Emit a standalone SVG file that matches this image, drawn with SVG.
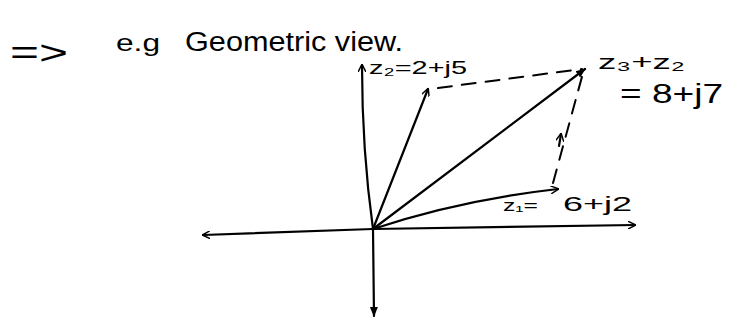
<svg xmlns="http://www.w3.org/2000/svg" width="749" height="325" viewBox="0 0 749 325">
<defs>
<style>
.ln{stroke:#000;stroke-width:2.2;fill:none;stroke-linecap:round;stroke-linejoin:round}
.ds{stroke:#000;stroke-width:2;fill:none;stroke-dasharray:14 10;stroke-linecap:round}
.t{font-family:"Liberation Sans","DejaVu Sans",sans-serif;fill:#000}
</style>
<marker id="ah" viewBox="0 0 10 10" refX="9" refY="5" markerWidth="8" markerHeight="8" orient="auto-start-reverse" markerUnits="userSpaceOnUse">
<path d="M0,0 L10,5 L0,10" fill="none" stroke="#000" stroke-width="1.8"/>
</marker>
<marker id="af" viewBox="0 0 10 10" refX="9" refY="5" markerWidth="10" markerHeight="10" orient="auto" markerUnits="userSpaceOnUse">
<path d="M0,1 L10,5 L0,9 Z" fill="#000"/>
</marker>
</defs>
<rect width="749" height="325" fill="#fff"/>
<g id="title">
<text class="t" x="10" y="64" font-size="34" textLength="58" lengthAdjust="spacingAndGlyphs">=&gt;</text>
<text class="t" x="116" y="51" font-size="24" textLength="44" lengthAdjust="spacingAndGlyphs">e.g</text>
<text class="t" x="185" y="51" font-size="27" textLength="218" lengthAdjust="spacingAndGlyphs">Geometric view.</text>
</g>
<g id="axes">
<path class="ln" d="M373,229 L203,235" marker-end="url(#ah)"/>
<path class="ln" d="M373,229 L635,225" marker-end="url(#ah)"/>
<path class="ln" d="M373,229 L374,316" marker-end="url(#af)"/>
<path class="ln" d="M373,229 Q362,150 362,65" marker-end="url(#ah)"/>
</g>
<g id="connectors">
<path class="ln" d="M373,229 L428,89" marker-end="url(#ah)"/>
<path class="ln" d="M373,229 L585,69" marker-end="url(#af)"/>
<path class="ln" d="M373,229 Q460,200 558,189" marker-end="url(#ah)"/>
<path class="ds" d="M438,88 L582,69"/>
<path class="ds" d="M553,183 L583,73"/>
<path class="ln" d="M559,146 L561,134" marker-end="url(#ah)"/>
</g>
<g id="z2">
<text class="t" x="369" y="74" font-size="19" textLength="98" lengthAdjust="spacingAndGlyphs">z₂=2+j5</text>
</g>
<g id="z3">
<text class="t" x="598" y="69" font-size="21" textLength="87" lengthAdjust="spacingAndGlyphs">z₃+z₂</text>
<text class="t" x="620" y="103" font-size="28" textLength="103" lengthAdjust="spacingAndGlyphs">= 8+j7</text>
</g>
<g id="z1">
<text class="t" x="503" y="211" font-size="17" textLength="35" lengthAdjust="spacingAndGlyphs">z₁=</text>
<text class="t" x="563" y="211" font-size="21" textLength="69" lengthAdjust="spacingAndGlyphs">6+j2</text>
</g>
</svg>
